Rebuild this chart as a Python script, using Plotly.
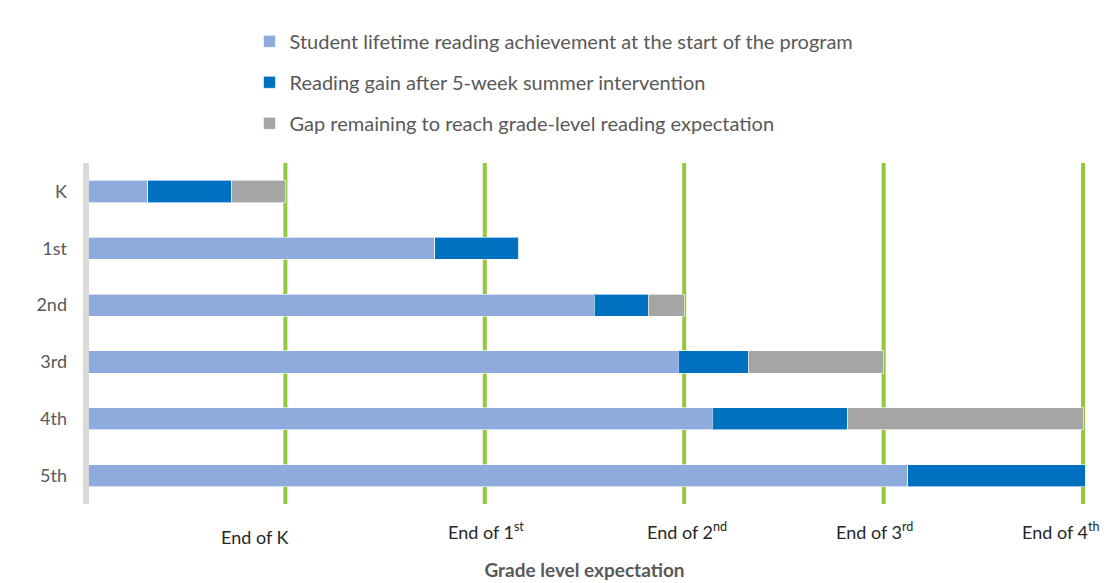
import plotly.graph_objects as go

# grades (rows, top to bottom)
grades = ["K", "1st", "2nd", "3rd", "4th", "5th"]

# values in "grade years" (green line at 1 = end of K, 2 = end of 1st, ...)
start_level = [0.31, 1.75, 2.55, 2.97, 3.14, 4.12]
summer_gain = [0.42, 0.42, 0.27, 0.35, 0.68, 0.89]
gap_remaining = [0.27, 0.00, 0.18, 0.68, 1.18, 0.00]

series_names = [
    "Student lifetime reading achievement at the start of the program",
    "Reading gain after 5-week summer intervention",
    "Gap remaining to reach grade-level reading expectation",
]

expect_vals = [1, 2, 3, 4, 5]
expect_text = ["End of K", "End of 1<sup>st</sup>", "End of 2<sup>nd</sup>",
               "End of 3<sup>rd</sup>", "End of 4<sup>th</sup>"]

colors = ["#8FAADC", "#0070C0", "#A5A5A5"]
text_color = "#595959"
font_family = "Lato"

fig = go.Figure()
for i, (name, vals) in enumerate(zip(series_names, [start_level, summer_gain, gap_remaining])):
    fig.add_trace(go.Bar(
        y=grades,
        x=vals,
        name=name,
        orientation="h",
        legendgroup=f"g{i}",
        marker=dict(color=colors[i], line=dict(color="rgba(255,255,255,0.6)", width=1)),
    ))

# green grade-level expectation lines (behind bars)
for v in expect_vals:
    fig.add_shape(type="line", xref="x", yref="paper", x0=v, x1=v, y0=0, y1=1,
                  line=dict(color="#92C83E", width=4), layer="below")

# light gray axis line at zero
fig.add_shape(type="line", xref="x", yref="paper", x0=0, x1=0, y0=0, y1=1,
              line=dict(color="#D9D9D9", width=6), layer="above")

# x labels as text boxes (placed a bit like the original)
label_xshift = [-31, 1, 3, -9, -23]
label_yshift = [-6, 0, 0, 0, 0]
for v, t, dx, dy in zip(expect_vals, expect_text, label_xshift, label_yshift):
    fig.add_annotation(x=v, y=-0.08, xref="x", yref="paper", text=t, showarrow=False,
                       xshift=dx, yshift=dy, yanchor="middle",
                       font=dict(family=font_family, size=18, color="#262626"))

# page body adds 8px, so the figure is a bit smaller than the window
fig.update_layout(
    width=1103,
    height=575,
    barmode="stack",
    bargap=0.61,
    plot_bgcolor="white",
    paper_bgcolor="white",
    font=dict(family=font_family, size=18, color=text_color),
    margin=dict(l=71.5, r=22, t=154.5, b=78.5, autoexpand=False),
    legend=dict(
        x=0.168, y=1.414, xanchor="left", yanchor="top",
        traceorder="grouped", tracegroupgap=12,
        font=dict(family=font_family, size=20, color=text_color),
    ),
    xaxis=dict(
        range=[-0.03, 5.03],
        showgrid=False, zeroline=False, showticklabels=False,
        title=dict(text="<b>Grade level expectation</b>", standoff=59,
                   font=dict(family=font_family, size=19, color=text_color)),
    ),
    yaxis=dict(
        autorange="reversed",
        showgrid=False, zeroline=False,
        ticklabelstandoff=12,
        tickfont=dict(family=font_family, size=18, color=text_color),
    ),
)

fig.write_html("out.html")
